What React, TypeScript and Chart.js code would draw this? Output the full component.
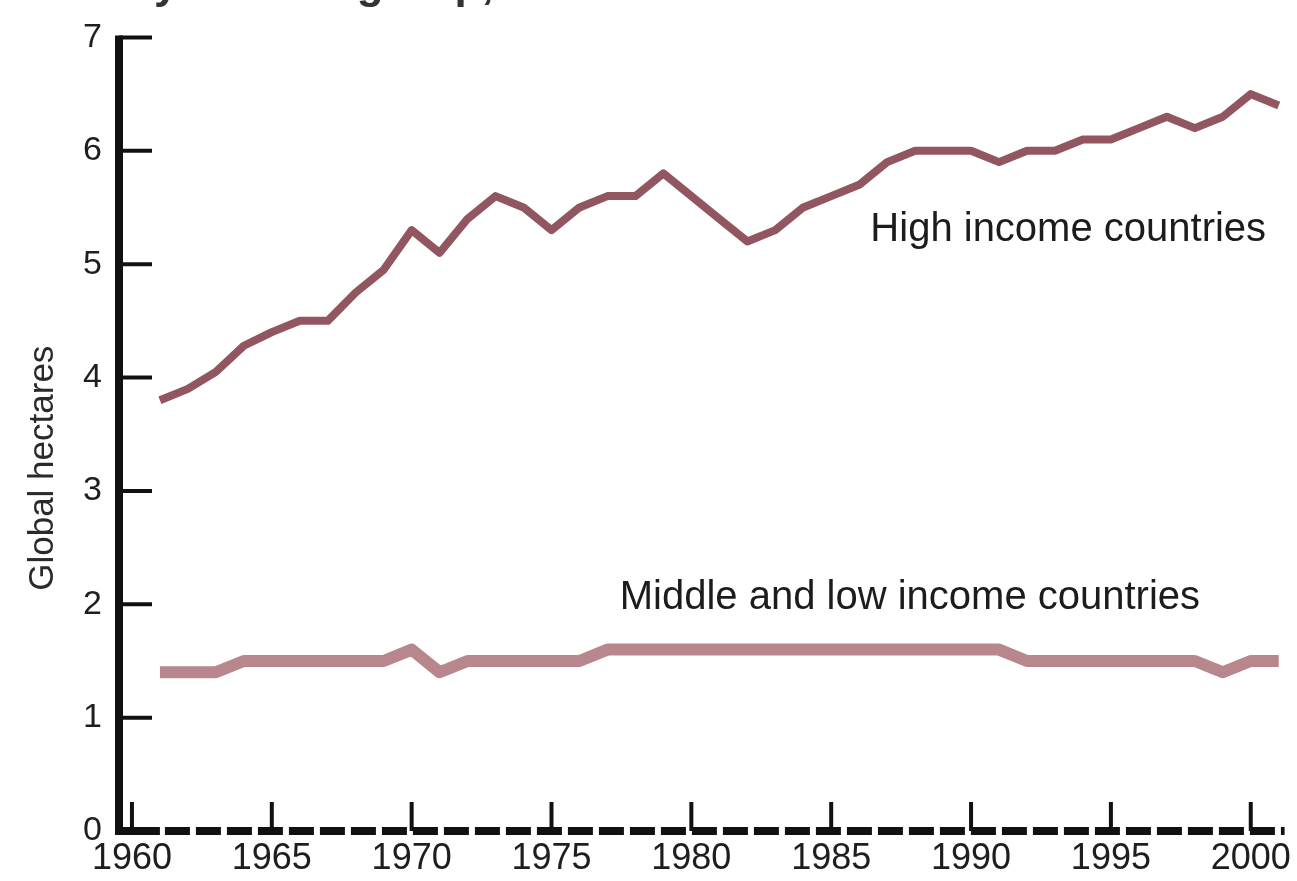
import React, { useEffect, useRef } from "react";
import { Chart, registerables } from "chart.js";

Chart.register(...registerables);

const years = [
  1961, 1962, 1963, 1964, 1965, 1966, 1967, 1968, 1969, 1970,
  1971, 1972, 1973, 1974, 1975, 1976, 1977, 1978, 1979, 1980,
  1981, 1982, 1983, 1984, 1985, 1986, 1987, 1988, 1989, 1990,
  1991, 1992, 1993, 1994, 1995, 1996, 1997, 1998, 1999, 2000, 2001,
];

const highIncome = [
  3.8, 3.9, 4.05, 4.28, 4.4, 4.5, 4.5, 4.75, 4.95, 5.3,
  5.1, 5.4, 5.6, 5.5, 5.3, 5.5, 5.6, 5.6, 5.8, 5.6,
  5.4, 5.2, 5.3, 5.5, 5.6, 5.7, 5.9, 6.0, 6.0, 6.0,
  5.9, 6.0, 6.0, 6.1, 6.1, 6.2, 6.3, 6.2, 6.3, 6.5, 6.4,
];

const middleLowIncome = [
  1.4, 1.4, 1.4, 1.5, 1.5, 1.5, 1.5, 1.5, 1.5, 1.6,
  1.4, 1.5, 1.5, 1.5, 1.5, 1.5, 1.6, 1.6, 1.6, 1.6,
  1.6, 1.6, 1.6, 1.6, 1.6, 1.6, 1.6, 1.6, 1.6, 1.6,
  1.6, 1.5, 1.5, 1.5, 1.5, 1.5, 1.5, 1.5, 1.4, 1.5, 1.5,
];

const xTickYears = [1960, 1965, 1970, 1975, 1980, 1985, 1990, 1995, 2000];
const yTickValues = [0, 1, 2, 3, 4, 5, 6, 7];

const titleText = "by income group, 1961\u20132001";
const yTitleText = "Global hectares";
const highLabel = "High income countries";
const lowLabel = "Middle and low income countries";

const FONT = "'Liberation Sans', Arial, Helvetica, sans-serif";

const decorPlugin = {
  id: "decor",
  afterDraw(chart: any) {
    const { ctx, chartArea: ca, scales } = chart;
    const x = scales.x;
    const y = scales.y;
    ctx.save();
    ctx.strokeStyle = "#111";
    ctx.lineCap = "butt";

    const y0 = y.getPixelForValue(0);
    const yTop = y.getPixelForValue(7);

    // y axis line
    ctx.lineWidth = 8;
    ctx.beginPath();
    ctx.moveTo(ca.left, yTop - 2);
    ctx.lineTo(ca.left, y0 + 4);
    ctx.stroke();

    // y ticks (inward)
    ctx.lineWidth = 4;
    yTickValues.forEach((v) => {
      if (v === 0) return;
      const py = y.getPixelForValue(v);
      ctx.beginPath();
      ctx.moveTo(ca.left, py);
      ctx.lineTo(ca.left + 33, py);
      ctx.stroke();
    });

    // x axis: solid start then dashed
    ctx.lineWidth = 8;
    const solidEnd = x.getPixelForValue(1961);
    ctx.beginPath();
    ctx.moveTo(ca.left - 4, y0);
    ctx.lineTo(solidEnd, y0);
    ctx.stroke();
    ctx.setLineDash([25, 6]);
    ctx.beginPath();
    ctx.moveTo(solidEnd + 5, y0);
    ctx.lineTo(ca.right, y0);
    ctx.stroke();
    ctx.setLineDash([]);

    // x ticks (upward)
    ctx.lineWidth = 4;
    xTickYears.forEach((v) => {
      const px = x.getPixelForValue(v);
      ctx.beginPath();
      ctx.moveTo(px, y0);
      ctx.lineTo(px, y0 - 29);
      ctx.stroke();
    });

    // Series labels
    ctx.fillStyle = "#1c1c1c";
    ctx.textBaseline = "alphabetic";
    ctx.textAlign = "left";
    ctx.font = `40px ${FONT}`;
    ctx.fillText(highLabel, x.getPixelForValue(1986.4), y.getPixelForValue(5.2));
    ctx.fillText(lowLabel, x.getPixelForValue(1977.44), y.getPixelForValue(1.96));

    // Y axis title (rotated)
    ctx.save();
    ctx.fillStyle = "#2a2a2a";
    ctx.font = `35px ${FONT}`;
    ctx.translate(ca.left - 66, y.getPixelForValue(3.2));
    ctx.rotate(-Math.PI / 2);
    ctx.textAlign = "center";
    ctx.fillText(yTitleText, 0, 0);
    ctx.restore();

    // Partially visible title at the very top
    ctx.fillStyle = "#333";
    ctx.font = `bold 44px ${FONT}`;
    ctx.textAlign = "left";
    ctx.fillText(titleText, ca.left + 8, -2);

    ctx.restore();
  },
};

export default function App() {
  const canvasRef = useRef<HTMLCanvasElement | null>(null);

  useEffect(() => {
    if (!canvasRef.current) return;
    const chart = new Chart(canvasRef.current, {
      type: "line",
      data: {
        datasets: [
          {
            label: lowLabel,
            data: years.map((yr, i) => ({ x: yr, y: middleLowIncome[i] })),
            borderColor: "#b8878d",
            borderWidth: 12,
            pointRadius: 0,
            tension: 0,
            borderJoinStyle: "round",
            fill: false,
          },
          {
            label: highLabel,
            data: years.map((yr, i) => ({ x: yr, y: highIncome[i] })),
            borderColor: "#925660",
            borderWidth: 8,
            pointRadius: 0,
            tension: 0,
            borderJoinStyle: "round",
            fill: false,
          },
        ],
      },
      options: {
        animation: false,
        responsive: true,
        maintainAspectRatio: false,
        layout: { padding: { top: 27, right: 7, left: 0, bottom: 0 } },
        plugins: {
          legend: { display: false },
          tooltip: { enabled: false },
          title: { display: false },
        },
        scales: {
          x: {
            type: "linear",
            min: 1959.537,
            max: 2001.21,
            grid: { display: false, drawTicks: false },
            border: { display: false },
            afterBuildTicks: (axis: any) => {
              axis.ticks = xTickYears.map((v) => ({ value: v }));
            },
            afterFit: (axis: any) => {
              axis.height = 50;
            },
            ticks: {
              autoSkip: false,
              maxRotation: 0,
              padding: 6,
              color: "#1e1e1e",
              font: { family: FONT, size: 36 },
              callback: (v: any) => String(v),
            },
          },
          y: {
            type: "linear",
            min: 0,
            max: 7,
            grid: { display: false, drawTicks: false },
            border: { display: false },
            afterBuildTicks: (axis: any) => {
              axis.ticks = yTickValues.map((v) => ({ value: v }));
            },
            afterFit: (axis: any) => {
              axis.width = 119;
            },
            ticks: {
              padding: 17,
              color: "#1e1e1e",
              font: { family: FONT, size: 34 },
              callback: (v: any) => String(v),
            },
          },
        },
      },
      plugins: [decorPlugin],
    });
    return () => chart.destroy();
  }, []);

  return (
    <div
      style={{
        position: "absolute",
        left: 0,
        top: 0,
        width: 1297,
        height: 881,
        background: "#ffffff",
      }}
    >
      <canvas ref={canvasRef} />
    </div>
  );
}
